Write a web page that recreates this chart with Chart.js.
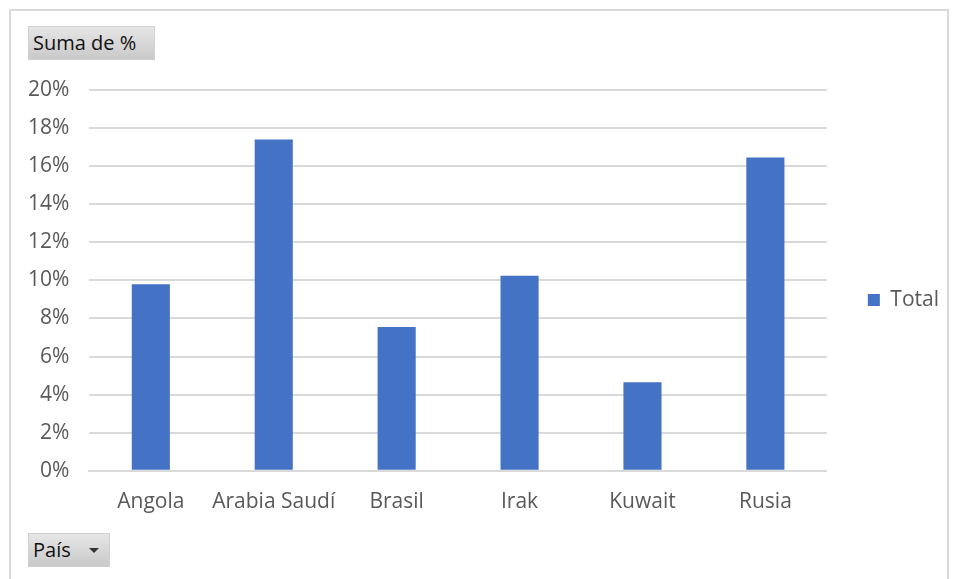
<!DOCTYPE html>
<html>
<head>
<meta charset="utf-8">
<script src="https://cdn.jsdelivr.net/npm/chart.js@4.4.0/dist/chart.umd.min.js"></script>
<style>
    body { margin: 0; background: #ffffff; }
    #wrap { position: relative; width: 955px; height: 579px; overflow: hidden; }
    #frame {
        position: absolute; left: 9px; top: 9px; width: 940px; height: 575px;
        border: 2px solid #d9d9d9; box-sizing: border-box;
    }
    #chart { position: absolute; left: 0; top: 0; }
    .field-btn {
        position: absolute; height: 34px; box-sizing: border-box;
        background: linear-gradient(#e6e6e6, #c9c9c9);
        border: 1px solid #d0d0d0;
        font-family: "Open Sans", sans-serif; font-size: 20px; color: #111;
        line-height: 32px; padding-left: 4px;
    }
    #btnValue { left: 28px; top: 26px; width: 127px; }
    #btnAxis { left: 28px; top: 533px; width: 82px; }
    #btnAxis .arrow {
        position: absolute; left: 60px; top: 14px; width: 0; height: 0;
        border-left: 5px solid transparent; border-right: 5px solid transparent;
        border-top: 5px solid #333;
    }
</style>
</head>
<body>
<div id="wrap">
    <div id="frame"></div>
    <canvas id="chart" width="955" height="579"></canvas>
    <div class="field-btn" id="btnValue">Suma de %</div>
    <div class="field-btn" id="btnAxis">País<span class="arrow"></span></div>
</div>
<script>
// pivot data: share (%) per country
const paises = ["Angola", "Arabia Saudí", "Brasil", "Irak", "Kuwait", "Rusia"];
const total = [9.8, 17.4, 7.55, 10.25, 4.65, 16.45];
const yTicks = [0, 2, 4, 6, 8, 10, 12, 14, 16, 18, 20];

const gray = "#595959";
const fontFamily = "'Open Sans', sans-serif";

// excel puts the legend a bit higher than chart.js centres it
const legendNudge = {
    id: "legendNudge",
    afterLayout: function (chart) {
        chart.legend.top -= 12;
        chart.legend.bottom -= 12;
    },
};

var ctx = document.getElementById("chart").getContext("2d");
var myChart = new Chart(ctx, {
    type: "bar",
    data: {
        labels: paises,
        datasets: [
            {
                label: "Total",
                data: total,
                backgroundColor: "#4472c4",
                borderWidth: 0,
                categoryPercentage: 1,
                barPercentage: 0.31,
            },
        ],
    },
    options: {
        responsive: false,
        animation: false,
        layout: {
            padding: { top: 90, left: 8, right: 6, bottom: 45 },
        },
        plugins: {
            legend: {
                position: "right",
                labels: {
                    boxWidth: 12,
                    boxHeight: 12,
                    padding: 41,
                    color: gray,
                    font: { family: fontFamily, size: 21 },
                },
            },
            tooltip: { enabled: false },
        },
        scales: {
            x: {
                grid: { display: false, drawTicks: false },
                border: { display: true, color: "#d9d9d9", width: 2 },
                ticks: {
                    padding: 19,
                    autoSkip: false,
                    color: gray,
                    font: { family: fontFamily, size: 21 },
                    maxRotation: 0,
                },
            },
            y: {
                min: 0,
                max: 20,
                afterBuildTicks: function (axis) {
                    axis.ticks = yTicks.map(function (v) { return { value: v }; });
                },
                grid: { color: "#d9d9d9", lineWidth: 2, drawTicks: false },
                border: { display: false },
                ticks: {
                    padding: 20,
                    color: gray,
                    font: { family: fontFamily, size: 21 },
                    callback: function (v) { return v + "%"; },
                },
            },
        },
    },
    plugins: [legendNudge],
});
</script>
</body>
</html>
